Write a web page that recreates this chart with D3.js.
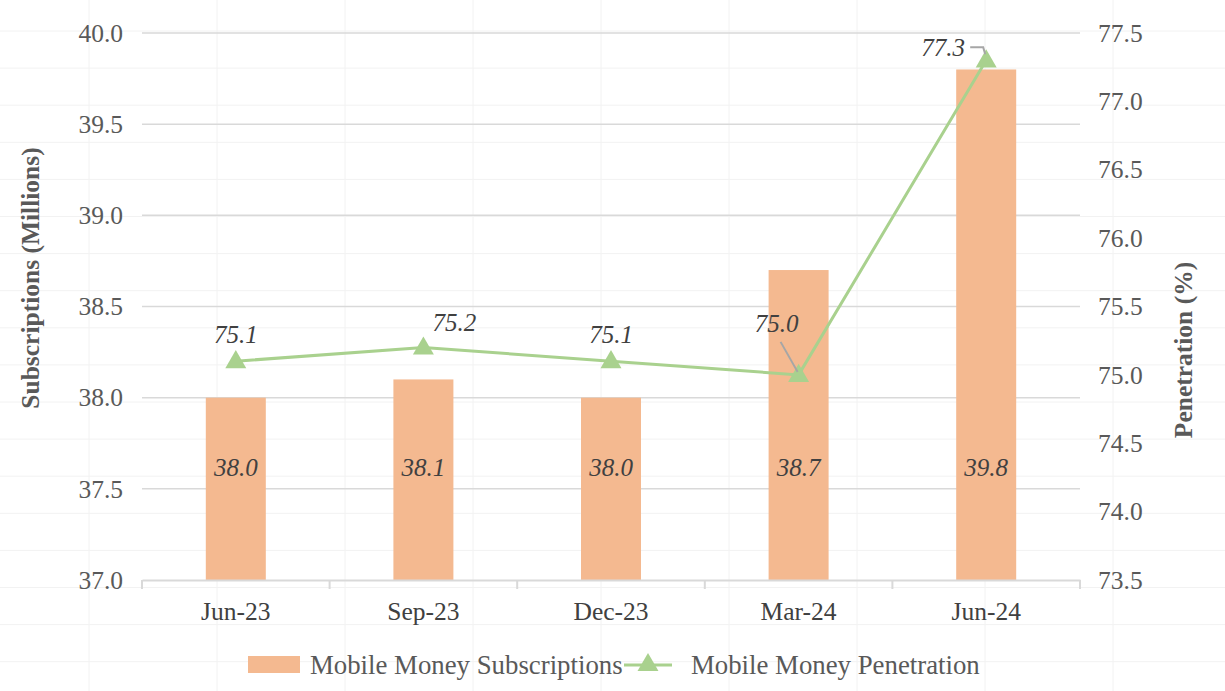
<!DOCTYPE html>
<html>
<head>
<meta charset="utf-8">
<script src="https://cdn.jsdelivr.net/npm/d3@7"></script>
<style>
  body { margin: 0; background: #fff; }
  svg { font-family: "Liberation Serif", "Times New Roman", serif; }
</style>
</head>
<body>
<svg id="chart" width="1225" height="691"></svg>
<script>
var quarters = ["Jun-23", "Sep-23", "Dec-23", "Mar-24", "Jun-24"];
var subscriptions = [38.0, 38.1, 38.0, 38.7, 39.8];
var penetration = [75.1, 75.2, 75.1, 75.0, 77.3];
var leftTicks = [37.0, 37.5, 38.0, 38.5, 39.0, 39.5, 40.0];
var rightTicks = [73.5, 74.0, 74.5, 75.0, 75.5, 76.0, 76.5, 77.0, 77.5];

var W = 1225, H = 691;
var plotLeft = 142, plotRight = 1080, plotTop = 33, plotBottom = 580;
var barColor = "#f4b990", lineColor = "#a9d18e", textColor = "#595959";

var svg = d3.select("#chart");

// faint sheet grid behind the chart
var bg = svg.append("g").attr("stroke", "#f2f2f2").attr("stroke-width", 1);
d3.range(89 - 128, W, 128).forEach(function(x) {
  bg.append("line").attr("x1", x).attr("x2", x).attr("y1", 0).attr("y2", H);
});
d3.range(31 - 37.1, H, 37.1).forEach(function(y) {
  bg.append("line").attr("x1", 0).attr("x2", W).attr("y1", y).attr("y2", y);
});

var x = d3.scaleBand().domain(quarters).range([plotLeft, plotRight]);
var yL = d3.scaleLinear().domain([37, 40]).range([plotBottom, plotTop]);
var yR = d3.scaleLinear().domain([73.5, 77.5]).range([plotBottom, plotTop]);

// gridlines
svg.append("g").selectAll("line").data(leftTicks.slice(1)).enter().append("line")
  .attr("x1", plotLeft).attr("x2", plotRight)
  .attr("y1", function(d) { return yL(d); }).attr("y2", function(d) { return yL(d); })
  .attr("stroke", "#d9d9d9").attr("stroke-width", 1.5);

// left / right axis labels
var yAxisL = d3.axisLeft(yL).tickValues(leftTicks).tickFormat(d3.format(".1f")).tickSize(0).tickPadding(19);
var gL = svg.append("g").attr("transform", "translate(" + plotLeft + ",0)").call(yAxisL);
gL.select(".domain").remove();
gL.selectAll("text").attr("font-size", 25.5).attr("fill", textColor).attr("font-family", "Liberation Serif");

var yAxisR = d3.axisRight(yR).tickValues(rightTicks).tickFormat(d3.format(".1f")).tickSize(0).tickPadding(18);
var gR = svg.append("g").attr("transform", "translate(" + plotRight + ",0)").call(yAxisR);
gR.select(".domain").remove();
gR.selectAll("text").attr("font-size", 25.5).attr("fill", textColor).attr("font-family", "Liberation Serif");

// bars
svg.append("g").selectAll("rect").data(quarters).enter().append("rect")
  .attr("x", function(d) { return x(d) + x.bandwidth() / 2 - 30; })
  .attr("width", 60)
  .attr("y", function(d, i) { return yL(subscriptions[i]); })
  .attr("height", function(d, i) { return plotBottom - yL(subscriptions[i]); })
  .attr("fill", barColor);

// bar labels
svg.append("g").selectAll("text").data(quarters).enter().append("text")
  .attr("x", function(d) { return x(d) + x.bandwidth() / 2; })
  .attr("y", 476)
  .attr("text-anchor", "middle")
  .attr("font-size", 25).attr("font-style", "italic").attr("fill", "#404040")
  .text(function(d, i) { return subscriptions[i].toFixed(1); });

// x axis
var xAxis = d3.axisBottom(x).tickSize(0).tickPadding(22);
var gX = svg.append("g").attr("transform", "translate(0," + plotBottom + ")").call(xAxis);
gX.select(".domain").attr("stroke", "#d9d9d9").attr("stroke-width", 2);
gX.selectAll("text").attr("font-size", 25.5).attr("fill", "#404040").attr("font-family", "Liberation Serif");
svg.append("g").selectAll("line").data(quarters.concat(["end"])).enter().append("line")
  .attr("x1", function(d, i) { return plotLeft + i * x.bandwidth(); })
  .attr("x2", function(d, i) { return plotLeft + i * x.bandwidth(); })
  .attr("y1", plotBottom).attr("y2", plotBottom + 9)
  .attr("stroke", "#d9d9d9").attr("stroke-width", 2);

// penetration line
var cx = function(d, i) { return x(quarters[i]) + x.bandwidth() / 2; };
var line = d3.line().x(function(d, i) { return cx(d, i); }).y(function(d) { return yR(d); });
svg.append("path").datum(penetration).attr("d", line)
  .attr("fill", "none").attr("stroke", lineColor).attr("stroke-width", 3);

var tri = d3.symbol().type(d3.symbolTriangle).size(190);
svg.append("g").selectAll("path").data(penetration).enter().append("path")
  .attr("d", tri)
  .attr("transform", function(d, i) { return "translate(" + cx(d, i) + "," + (yR(d) + 1) + ")"; })
  .attr("fill", lineColor);

// line labels (offsets follow the original layout)
var labelOffsets = [[0, -18], [31, -17], [0, -18], [-22, -43], [-43, -4]];
svg.append("g").selectAll("text").data(penetration).enter().append("text")
  .attr("x", function(d, i) { return cx(d, i) + labelOffsets[i][0]; })
  .attr("y", function(d, i) { return yR(d) + labelOffsets[i][1]; })
  .attr("text-anchor", "middle")
  .attr("font-size", 25).attr("font-style", "italic").attr("fill", "#404040")
  .text(function(d) { return d.toFixed(1); });

// leader lines
var p3 = [cx(0, 3), yR(penetration[3])];
var p4 = [cx(0, 4), yR(penetration[4])];
svg.append("path").attr("d", "M" + (p3[0] - 18) + "," + (p3[1] - 33) + "L" + (p3[0] - 1) + "," + (p3[1] - 3))
  .attr("stroke", "#a6a6a6").attr("stroke-width", 2).attr("fill", "none");
svg.append("path").attr("d", "M" + (p4[0] - 16) + "," + (p4[1] - 13) + "L" + (p4[0] - 3) + "," + (p4[1] - 13) + "L" + (p4[0] - 1) + "," + (p4[1] - 6))
  .attr("stroke", "#a6a6a6").attr("stroke-width", 2).attr("fill", "none");

// axis titles
svg.append("text")
  .attr("transform", "translate(39,278) rotate(-90)")
  .attr("text-anchor", "middle").attr("font-size", 25.5).attr("font-weight", "bold").attr("fill", textColor)
  .text("Subscriptions (Millions)");
svg.append("text")
  .attr("transform", "translate(1192,350) rotate(-90)")
  .attr("text-anchor", "middle").attr("font-size", 25.5).attr("font-weight", "bold").attr("fill", textColor)
  .text("Penetration (%)");

// legend
var lg = svg.append("g");
lg.append("rect").attr("x", 248).attr("y", 656).attr("width", 52).attr("height", 17).attr("fill", barColor);
lg.append("text").attr("x", 310).attr("y", 674).attr("font-size", 26.8).attr("fill", textColor).text("Mobile Money Subscriptions");
lg.append("line").attr("x1", 624).attr("x2", 672).attr("y1", 665).attr("y2", 665)
  .attr("stroke", lineColor).attr("stroke-width", 3);
lg.append("path").attr("d", tri).attr("transform", "translate(648,665)").attr("fill", lineColor);
lg.append("text").attr("x", 691).attr("y", 674).attr("font-size", 26.8).attr("fill", textColor).text("Mobile Money Penetration");
</script>
</body>
</html>
